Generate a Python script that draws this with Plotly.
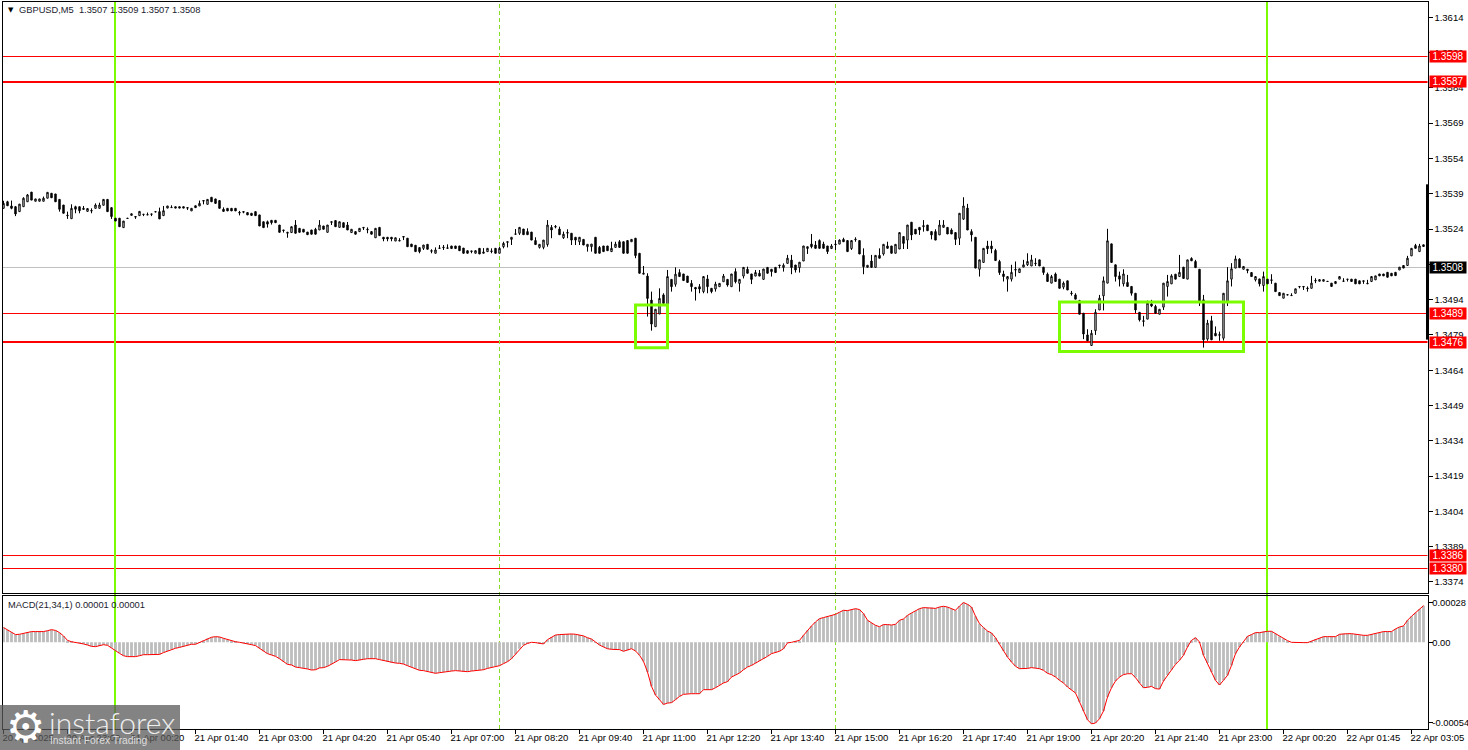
import plotly.graph_objects as go
from plotly.subplots import make_subplots

WIDTH = 1468
HEIGHT = 750

# GBPUSD M5 bars, in points above 1.30000 (5328 = 1.35328)
open_pts = [
    5328,5356,5338,5335,5314,5335,5356,5397,5358,5358,
    5358,5371,5392,5389,5366,5342,5299,5284,5335,5335,
    5328,5315,5319,5328,5328,5341,5366,5331,5286,5286,
    5246,5286,5298,5293,5297,5303,5300,5304,5314,5314,
    5297,5329,5331,5335,5335,5335,5331,5317,5339,5338,
    5361,5345,5375,5368,5361,5324,5328,5328,5328,5311,
    5314,5310,5307,5314,5300,5271,5271,5277,5277,5257,
    5236,5222,5225,5257,5243,5239,5227,5236,5239,5236,
    5253,5226,5271,5276,5247,5267,5257,5225,5229,5229,
    5247,5239,5229,5203,5247,5205,5205,5205,5189,5189,
    5208,5201,5176,5171,5161,5158,5175,5148,5137,5158,
    5163,5158,5168,5168,5168,5159,5148,5147,5137,5158,
    5137,5144,5147,5158,5137,5165,5186,5196,5218,5222,
    5240,5229,5227,5191,5162,5162,5174,5247,5251,5240,
    5203,5225,5222,5205,5186,5196,5165,5165,5205,5162,
    5168,5168,5144,5162,5186,5186,5191,5186,5201,5137,
    5048,5040,4938,4825,4879,4960,4917,5026,5005,5055,
    5049,5040,5009,4992,4995,4974,5028,4988,4985,4995,
    5016,5026,4995,5059,5009,5040,5069,5049,5040,5052,
    5026,5077,5069,5077,5087,5076,5094,5108,5087,5076,
    5104,5157,5176,5172,5191,5176,5168,5157,5176,5176,
    5196,5191,5157,5197,5191,5128,5077,5104,5077,5128,
    5134,5168,5168,5137,5155,5208,5193,5269,5239,5247,
    5250,5257,5229,5229,5215,5247,5247,5236,5225,5201,
    5282,5329,5229,5205,5069,5098,5168,5168,5149,5102,
    5049,5027,5027,5068,5055,5078,5088,5083,5095,5109,
    5078,5048,5010,5049,5027,4993,5020,4968,4960,4936,
    4882,4790,4745,4808,4896,4956,5010,5177,5088,5041,
    5007,5013,4996,4967,4886,4850,4857,4922,4911,4878,
    4908,4996,5007,5048,5038,5078,5027,5115,5102,5069,
    4939,4772,4850,4797,4791,4776,4932,5027,5074,5112,
    5069,5069,5055,5024,5028,5000,5027,5024,5010,4970,
    4946,4961,4957,4967,4996,4996,4989,4988,5022,5018,
    5018,5018,5010,5008,5027,5018,5027,5027,5027,5020,
    5020,5007,5017,5024,5049,5049,5056,5052,5056,5066,
    5085,5085,5126,5170,5144,5173,
]
high_pts = [
    5360,5360,5361,5338,5346,5375,5389,5397,5368,5368,
    5378,5396,5392,5389,5366,5342,5314,5345,5339,5335,
    5338,5327,5328,5349,5352,5366,5366,5331,5286,5286,
    5274,5287,5305,5293,5315,5303,5310,5304,5315,5331,
    5338,5338,5341,5335,5335,5335,5331,5328,5339,5361,
    5363,5366,5375,5368,5361,5332,5328,5328,5328,5317,
    5314,5310,5307,5314,5300,5271,5276,5277,5277,5257,
    5236,5226,5250,5278,5243,5239,5227,5236,5245,5278,
    5253,5257,5271,5276,5271,5267,5270,5239,5229,5243,
    5247,5247,5229,5243,5247,5205,5205,5205,5203,5201,
    5208,5201,5176,5171,5161,5172,5175,5154,5162,5172,
    5172,5175,5168,5168,5168,5159,5148,5147,5148,5158,
    5159,5158,5158,5158,5165,5186,5186,5205,5240,5247,
    5240,5243,5227,5205,5175,5193,5278,5257,5257,5250,
    5229,5239,5222,5205,5205,5196,5175,5176,5205,5168,
    5168,5168,5186,5186,5193,5186,5191,5196,5201,5137,
    5083,5052,4974,4899,4988,4967,5066,5026,5077,5069,
    5049,5040,5023,4992,5006,5038,5045,4988,5016,5009,
    5049,5026,5049,5073,5026,5077,5080,5049,5066,5066,
    5070,5077,5069,5077,5087,5094,5130,5130,5087,5099,
    5168,5165,5219,5189,5196,5186,5168,5176,5193,5196,
    5203,5191,5191,5205,5191,5158,5086,5130,5128,5158,
    5175,5186,5168,5175,5225,5208,5257,5269,5239,5247,
    5278,5257,5229,5239,5278,5278,5247,5243,5225,5307,
    5375,5347,5239,5205,5109,5158,5190,5190,5156,5109,
    5063,5038,5088,5102,5071,5109,5137,5130,5116,5109,
    5078,5055,5045,5055,5027,5017,5020,4977,4967,4939,
    4882,4814,4811,4899,4960,5038,5241,5177,5088,5059,
    5069,5045,4996,4967,4886,4871,4936,4939,4918,4899,
    5010,5045,5048,5048,5130,5078,5109,5120,5109,5069,
    4960,4854,4871,4826,4804,4967,5078,5095,5127,5116,
    5081,5069,5055,5038,5028,5059,5027,5048,5010,4970,
    4967,4962,4967,4986,4996,4996,4996,5041,5031,5025,
    5025,5019,5010,5017,5038,5031,5027,5027,5027,5020,
    5020,5024,5038,5041,5049,5049,5056,5052,5056,5078,
    5085,5126,5158,5177,5177,5173,
]
low_pts = [
    5328,5339,5324,5295,5314,5335,5356,5363,5358,5358,
    5358,5371,5373,5356,5314,5307,5283,5284,5307,5307,
    5324,5315,5307,5328,5328,5341,5314,5283,5274,5250,
    5246,5284,5298,5283,5297,5295,5300,5295,5312,5283,
    5297,5329,5331,5329,5329,5329,5321,5317,5331,5338,
    5345,5345,5356,5349,5328,5315,5317,5317,5317,5298,
    5307,5300,5298,5297,5253,5246,5246,5259,5267,5226,
    5225,5203,5225,5222,5226,5227,5216,5218,5218,5236,
    5239,5226,5257,5250,5247,5247,5236,5225,5218,5229,
    5236,5222,5218,5203,5212,5188,5188,5188,5189,5189,
    5193,5165,5165,5144,5137,5151,5154,5137,5137,5158,
    5151,5158,5157,5157,5148,5137,5137,5137,5137,5134,
    5137,5144,5137,5137,5137,5158,5162,5172,5218,5215,
    5216,5216,5193,5174,5157,5154,5165,5201,5243,5216,
    5198,5201,5172,5172,5172,5172,5144,5144,5137,5137,
    5144,5148,5144,5162,5162,5137,5137,5186,5116,5052,
    5048,4868,4808,4825,4879,4924,4917,4974,4995,5038,
    5021,5013,4974,4936,4967,4967,4967,4967,4974,4995,
    5016,4995,4995,5009,4974,5030,5052,5006,5040,5040,
    5026,5052,5038,5055,5073,5059,5094,5048,5055,5055,
    5104,5134,5158,5158,5158,5158,5134,5157,5151,5176,
    5186,5144,5151,5186,5134,5048,5077,5077,5077,5116,
    5127,5158,5137,5137,5155,5155,5155,5193,5219,5215,
    5229,5233,5196,5193,5215,5247,5219,5219,5172,5172,
    5279,5236,5187,5074,5038,5098,5134,5137,5106,5045,
    5017,4974,5017,5038,5055,5078,5083,5083,5083,5083,
    5045,5017,5010,5017,4988,4984,4981,4957,4942,4878,
    4772,4765,4745,4790,4896,4894,5010,5098,5017,4996,
    4996,4996,4957,4882,4847,4826,4857,4908,4882,4878,
    4896,4953,5007,5027,5038,5030,5027,5105,5076,4913,
    4736,4765,4769,4786,4765,4766,4913,4996,5074,5076,
    5069,5052,5038,5017,4996,4974,5007,5007,4974,4957,
    4946,4959,4957,4967,4988,4981,4974,4988,5010,5018,
    5018,5016,4996,5008,5027,5018,5017,5017,5007,5007,
    5007,5007,5017,5024,5041,5041,5035,5041,5042,5066,
    5074,5085,5126,5158,5144,5166,
]
close_pts = [
    5349,5339,5328,5304,5346,5371,5385,5363,5368,5368,
    5371,5396,5373,5356,5324,5307,5297,5328,5324,5318,
    5324,5327,5317,5342,5342,5366,5314,5293,5274,5250,
    5274,5285,5305,5291,5315,5302,5301,5303,5313,5283,
    5318,5338,5332,5329,5329,5329,5329,5328,5331,5349,
    5359,5366,5356,5349,5328,5315,5317,5317,5317,5309,
    5312,5300,5298,5297,5253,5246,5261,5267,5267,5226,
    5234,5226,5250,5222,5226,5227,5216,5218,5218,5257,
    5239,5257,5269,5250,5271,5247,5236,5239,5218,5243,
    5245,5237,5218,5243,5212,5198,5198,5198,5203,5191,
    5206,5165,5165,5144,5144,5172,5154,5146,5151,5159,
    5161,5160,5157,5157,5148,5137,5137,5145,5148,5134,
    5142,5158,5145,5137,5158,5179,5184,5205,5219,5247,
    5216,5216,5193,5174,5175,5193,5257,5236,5249,5216,
    5218,5223,5193,5193,5205,5172,5175,5176,5137,5137,
    5144,5148,5158,5176,5162,5137,5137,5196,5127,5052,
    5052,4945,4836,4899,4945,4924,5038,4995,5048,5038,
    5021,5013,4995,4985,4985,5038,4995,4974,5006,5009,
    5040,5002,5049,5016,5026,5077,5052,5026,5055,5040,
    5070,5052,5059,5055,5085,5086,5116,5076,5066,5099,
    5168,5165,5165,5158,5158,5158,5144,5168,5174,5193,
    5186,5144,5191,5195,5134,5080,5086,5077,5128,5116,
    5175,5158,5137,5175,5225,5179,5257,5215,5219,5236,
    5254,5233,5215,5193,5257,5257,5219,5219,5196,5307,
    5338,5236,5215,5074,5109,5158,5156,5156,5106,5055,
    5038,5038,5056,5066,5071,5088,5102,5109,5093,5083,
    5055,5017,5038,5017,4988,5010,4981,4966,4942,4878,
    4794,4765,4797,4886,4946,5020,5190,5098,5038,5027,
    5049,4996,4967,4896,4854,4848,4925,4913,4882,4899,
    5010,5017,5041,5027,5056,5030,5109,5105,5076,4932,
    4769,4840,4769,4786,4789,4967,5020,5071,5113,5076,
    5081,5064,5038,5038,5007,5038,5007,5022,4974,4957,
    4967,4960,4958,4986,4995,4994,4987,5010,5020,5025,
    5025,5017,4996,5017,5038,5019,5026,5017,5007,5007,
    5018,5009,5038,5041,5041,5041,5035,5041,5042,5078,
    5074,5116,5158,5158,5168,5166,
]

# MACD(21,34,1) per bar, in units of 0.00001
macd_units = [
    9.9,8.5,6.7,5.2,5.4,6,6.7,7.2,7.2,7.2,
    7.2,7.8,8.5,8,6.5,4.3,1.3,.4,0,-.4,
    -1.1,-1.8,-2.7,-2.9,-2.5,-1.6,-2,-3.6,-5.6,-7.4,
    -9,-9.6,-9.6,-9.6,-9,-8.3,-8.3,-8.3,-8.1,-8.1,
    -6.9,-5.8,-4.7,-4,-3.4,-2.7,-2,-1.3,-1.3,-.2,
    1.3,2.5,3.4,3.8,3.6,2.7,1.8,1.1,.4,0,
    -.4,-.9,-1.6,-2.2,-4,-6,-7.6,-8.5,-9.4,-11,
    -12.8,-14.8,-15.2,-16.6,-17,-17.2,-17.9,-18.6,-18.4,-17.2,
    -17,-16.1,-14.8,-13.2,-11.6,-11.6,-11.6,-11.9,-12.3,-12.1,
    -11.4,-11,-11,-11,-11.6,-12.3,-13,-13.7,-13.9,-14.1,
    -14.6,-15.7,-16.6,-17.7,-18.8,-19,-19.5,-20.2,-20.8,-20.4,
    -19.9,-19.7,-19.3,-19,-19.3,-19.7,-19.7,-19.3,-19,-18.8,
    -18.4,-17.5,-16.8,-16.1,-15.7,-14.3,-13,-11,-8,-4.3,
    -2,-.7,0,-.2,-.9,-1.1,1.8,3.6,4.9,5.2,
    5.4,5.6,5.6,5.4,4.9,4.3,3.1,2.2,.2,-1.8,
    -3.1,-4.3,-4.7,-4.9,-4.9,-6,-5.4,-4.3,-5.8,-8.7,
    -12.8,-19.9,-29.6,-35.4,-38.5,-41.7,-40.8,-40.5,-38.5,-36.3,
    -34.9,-34.5,-34.5,-34.5,-34.5,-31.8,-31.8,-31.8,-30.5,-28.7,
    -27.3,-26.4,-23.3,-22,-20.6,-18.4,-16.6,-15.5,-14.1,-12.5,
    -11,-9.4,-7.6,-6.9,-6,-4.3,-.4,0,.4,1.3,
    4.7,8.1,11,13.7,15.9,16.6,17.2,18.1,18.8,20.2,
    21.5,21.3,22,22.6,22,19.3,14.8,13,11.4,10.5,
    11.9,11.9,11.6,12.1,14.8,15.7,18.1,19.7,21.1,22.6,
    23.3,23.3,23.3,22.8,23.7,24.2,23.7,22.6,21.5,24.4,
    26.7,25.5,23.7,17.5,12.5,9.9,7.6,6.3,3.1,-1.3,
    -5.8,-9.9,-13.2,-16.1,-17.7,-17.7,-17.5,-17,-17.2,-17.7,
    -18.8,-20.8,-21.7,-23.3,-25.5,-27.3,-30,-31.8,-34,-40,
    -46.1,-52,-54.7,-54.2,-51.3,-46.1,-36.7,-30.5,-26,-23.3,
    -21.7,-21.1,-21.1,-23.7,-27.3,-30.5,-30.2,-29.6,-31.1,-31.4,
    -26,-22,-18.4,-14.8,-12.1,-8.7,-3.1,1.3,3.1,.2,
    -8.7,-13.9,-19.9,-25.5,-28.7,-25.5,-22.2,-15.5,-7.6,-3.1,
    .2,4,5.2,6.5,6.5,7.2,7.4,7.4,5.8,4,
    2.5,1.1,0,-.2,-.2,-.2,-.2,.9,2,2.9,
    3.8,3.8,3.8,3.8,5.4,5.8,5.8,5.8,5.4,4.7,
    4.7,4.7,5.4,6,6.5,7.2,7.2,7.2,9,10.3,
    11,14.8,17.5,19.9,22.4,24.6,
]

price_ticks = [1.3614,1.3599,1.3584,1.3569,1.3554,1.3539,1.3524,1.3509,1.3494,
               1.3479,1.3464,1.3449,1.3434,1.3419,1.3404,1.3389,1.3374]
price_range = [1.33693, 1.36205]
macd_tick_vals = [-0.00054, 0, 0.000266]
macd_tick_text = ['-0.00054', '0.00', '0.00028']
macd_range = [-0.000582, 0.000311]

time_labels = ['20 Apr 2025','20 Apr 23:00','21 Apr 00:20','21 Apr 01:40','21 Apr 03:00','21 Apr 04:20',
               '21 Apr 05:40','21 Apr 07:00','21 Apr 08:20','21 Apr 09:40','21 Apr 11:00','21 Apr 12:20',
               '21 Apr 13:40','21 Apr 15:00','21 Apr 16:20','21 Apr 17:40','21 Apr 19:00','21 Apr 20:20',
               '21 Apr 21:40','21 Apr 23:00','22 Apr 00:20','22 Apr 01:45','22 Apr 03:05']
time_tick_bars = list(range(0, 356, 16))

# level lines (unrounded) and the rounded text of their tags
thin_levels = [1.359733, 1.348810, 1.338523, 1.337971]
thin_labels = ['1.3598', '1.3489', '1.3386', '1.3380']
thick_levels = [1.358650, 1.347598]
thick_labels = ['1.3587', '1.3476']
last_price = 1.350765
last_label = '1.3508'
midnight_bars = [27.875, 315.875]
separator_bars = [124, 208]
zones = [(158, 166, 1.34735, 1.34917), (264, 310, 1.3472, 1.3493)]
range_bar = [1.3477, 1.3543]

FONT = 'Liberation Sans'
GREEN = '#7CFC00'
RED = '#FF0000'


def px_x(x):
    return x / WIDTH


def px_y(y):
    return 1 - y / HEIGHT


bars = list(range(len(open_pts)))
to_price = lambda pts: [1.3 + p / 100000 for p in pts]

fig = make_subplots(rows=2, cols=1, shared_xaxes=True)

fig.add_trace(go.Candlestick(
    x=bars,
    open=to_price(open_pts),
    high=to_price(high_pts),
    low=to_price(low_pts),
    close=to_price(close_pts),
    increasing=dict(line=dict(color='black', width=1), fillcolor='white'),
    decreasing=dict(line=dict(color='black', width=1), fillcolor='black'),
    whiskerwidth=0,
    showlegend=False,
), row=1, col=1)

macd = [v / 100000 for v in macd_units]
fig.add_trace(go.Bar(x=bars, y=macd, marker_color='#BDBDBD', marker_line_width=0, width=0.7, showlegend=False), row=2, col=1)
fig.add_trace(go.Scatter(x=bars, y=macd, mode='lines', line=dict(color=RED, width=1), showlegend=False), row=2, col=1)

# horizontal levels
for level in thin_levels:
    fig.add_shape(type='line', xref='paper', yref='y', x0=px_x(2.5), x1=px_x(1427.5), y0=level, y1=level,
                  line=dict(color=RED, width=1), layer='below')
for level in thick_levels:
    fig.add_shape(type='line', xref='paper', yref='y', x0=px_x(2.5), x1=px_x(1427.5), y0=level, y1=level,
                  line=dict(color=RED, width=2), layer='below')
fig.add_shape(type='line', xref='paper', yref='y', x0=px_x(2.5), x1=px_x(1427.5), y0=last_price, y1=last_price,
              line=dict(color='#C0C0C0', width=1), layer='below')

# vertical lines run through both panes
for b in midnight_bars:
    fig.add_shape(type='line', xref='x', yref='paper', x0=b, x1=b, y0=px_y(729), y1=px_y(2),
                  line=dict(color=GREEN, width=2), layer='below')
for b in separator_bars:
    fig.add_shape(type='line', xref='x', yref='paper', x0=b, x1=b, y0=px_y(729), y1=px_y(2),
                  line=dict(color='#86DC28', width=1, dash='4px,3px'), layer='below')

for x0, x1, y0, y1 in zones:
    fig.add_shape(type='rect', xref='x', yref='y', x0=x0, x1=x1, y0=y0, y1=y1,
                  line=dict(color=GREEN, width=3))

fig.add_shape(type='line', xref='paper', yref='y', x0=px_x(1427.5), x1=px_x(1427.5), y0=range_bar[0], y1=range_bar[1],
              line=dict(color='black', width=3))

# price tags on the right axis
tags = list(zip(thin_levels, thin_labels, [RED] * 4)) + list(zip(thick_levels, thick_labels, [RED] * 2))
tags.append((last_price, last_label, 'black'))
for level, label, color in tags:
    fig.add_annotation(xref='paper', yref='y', x=px_x(1429), y=level, xanchor='left', yanchor='middle',
                       text=label, showarrow=False, width=36, height=11, borderpad=0, align='center',
                       bgcolor=color, font=dict(family=FONT, size=10, color='white'))

# header texts
fig.add_annotation(xref='paper', yref='paper', x=px_x(6), y=px_y(10), xanchor='left', yanchor='middle',
                   text='▼', showarrow=False, font=dict(family='DejaVu Sans', size=7, color='black'))
fig.add_annotation(xref='paper', yref='paper', x=px_x(17), y=px_y(10), xanchor='left', yanchor='middle',
                   text='GBPUSD,M5  1.3507 1.3509 1.3507 1.3508', showarrow=False,
                   font=dict(family=FONT, size=9.3, color='#1a1a2e'))
fig.add_annotation(xref='paper', yref='paper', x=px_x(6), y=px_y(604.5), xanchor='left', yanchor='middle',
                   text='MACD(21,34,1) 0.00001 0.00001', showarrow=False,
                   font=dict(family=FONT, size=9.3, color='#1a1a2e'))

# watermark
fig.add_shape(type='rect', xref='paper', yref='paper', x0=0, x1=px_x(180), y0=px_y(750), y1=px_y(705),
              fillcolor='rgba(90,90,90,0.75)', line_width=0)
fig.add_annotation(xref='paper', yref='paper', x=px_x(25), y=px_y(726), xanchor='center', yanchor='middle',
                   text='⚙', showarrow=False, font=dict(family='DejaVu Sans', size=44, color='white'))
fig.add_annotation(xref='paper', yref='paper', x=px_x(47), y=px_y(722), xanchor='left', yanchor='middle',
                   text='instaforex', showarrow=False, font=dict(family='Lato', size=30, color='#eeeeee', weight=300))
fig.add_annotation(xref='paper', yref='paper', x=px_x(48), y=px_y(740), xanchor='left', yanchor='middle',
                   text='Instant Forex Trading', showarrow=False, font=dict(family=FONT, size=10.3, color='#dddddd'))

axis_style = dict(showline=True, linecolor='black', linewidth=1, mirror=True, showgrid=False, zeroline=False)

fig.update_xaxes(axis_style)
fig.update_yaxes(axis_style)
fig.update_layout(
    width=WIDTH,
    height=HEIGHT,
    margin=dict(l=0, r=0, t=0, b=0, autoexpand=False),
    paper_bgcolor='white',
    plot_bgcolor='white',
    showlegend=False,
    hovermode=False,
    boxgap=0.5,
    font=dict(family=FONT, size=9.5, color='black'),
    xaxis=dict(domain=[px_x(2.5), px_x(1427.5)], range=[-0.25, 356], rangeslider=dict(visible=False),
               showticklabels=False, ticks=''),
    xaxis2=dict(domain=[px_x(2.5), px_x(1427.5)], range=[-0.25, 356], tickmode='array', tickvals=time_tick_bars,
                ticktext=time_labels, ticks='outside', ticklen=4, tickcolor='black', tickangle=0,
                ticklabelposition='outside right', ticklabeloverflow='allow', ticklabelshift=-2,
                tickfont=dict(family=FONT, size=9.5)),
    yaxis=dict(domain=[px_y(593), px_y(2)], range=price_range, side='right', tickmode='array', tickvals=price_ticks,
               ticktext=[f'{t:.4f}' for t in price_ticks], ticks='outside', ticklen=4, tickcolor='black'),
    yaxis2=dict(domain=[px_y(729), px_y(596)], range=macd_range, side='right', tickmode='array', tickvals=macd_tick_vals,
                ticktext=macd_tick_text, ticks='outside', ticklen=4, tickcolor='black', ticklabelstandoff=-2,
                tickfont=dict(family=FONT, size=9.3)),
)

fig.write_html("out.html", config=dict(displayModeBar=False), post_script="document.body.style.margin='0';")
